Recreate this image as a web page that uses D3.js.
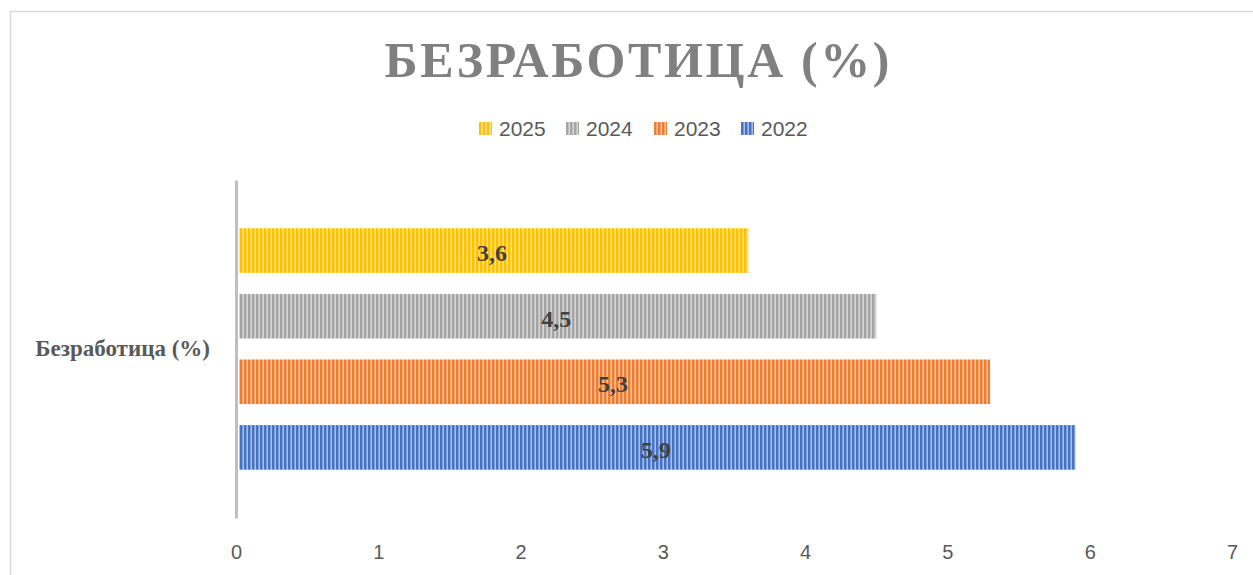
<!DOCTYPE html>
<html>
<head>
<meta charset="utf-8">
<script src="https://cdn.jsdelivr.net/npm/d3@7"></script>
<style>
  body { margin: 0; background: #fff; }
  svg { display: block; }
</style>
</head>
<body>
<svg class="chart" width="1253" height="575"></svg>
<script>
// data
const category = "Безработица (%)";
const years = ["2025", "2024", "2023", "2022"];
const values = [3.6, 4.5, 5.3, 5.9];
const colors = ["#FFC000", "#A5A5A5", "#ED7D31", "#4472C4"];
const xTicks = [0, 1, 2, 3, 4, 5, 6, 7];

const ru = d3.formatLocale({ decimal: ",", thousands: " ", grouping: [3], currency: ["", ""] });
const fmt = ru.format(".1f");

const svg = d3.select("svg.chart");

// outer chart frame (only left and top edges visible in the crop)
svg.append("rect")
    .attr("x", 10.5).attr("y", 11.5)
    .attr("width", 1300).attr("height", 700)
    .attr("fill", "none")
    .attr("stroke", "#d9d9d9")
    .attr("stroke-width", 1.5);

// striped fills
const defs = svg.append("defs");
years.forEach((yr, i) => {
    const p = defs.append("pattern")
        .attr("id", "stripe" + yr)
        .attr("patternUnits", "userSpaceOnUse")
        .attr("width", 4).attr("height", 10);
    p.append("rect").attr("width", 4).attr("height", 10).attr("fill", colors[i]);
    p.append("rect").attr("x", 2).attr("width", 1).attr("height", 10).attr("fill", "#fff").attr("opacity", 0.3);
    p.append("rect").attr("x", 3).attr("width", 1).attr("height", 10).attr("fill", "#fff").attr("opacity", 0.55);
});

// title
svg.append("text")
    .attr("x", 637).attr("y", 77)
    .attr("text-anchor", "middle")
    .attr("textLength", 505)
    .attr("lengthAdjust", "spacing")
    .style("font-family", "'Liberation Serif', 'Times New Roman', serif")
    .style("font-weight", "bold")
    .style("font-size", "50px")
    .style("fill", "#808080")
    .text("БЕЗРАБОТИЦА (%)");

// legend
const legendX = [479, 566, 654, 741];
const legend = svg.append("g").selectAll("g")
    .data(years)
    .enter().append("g")
    .attr("transform", (d, i) => `translate(${legendX[i]}, 122)`);
legend.append("rect")
    .attr("width", 13).attr("height", 13)
    .attr("fill", d => `url(#stripe${d})`);
legend.append("text")
    .attr("x", 20).attr("y", 7)
    .attr("dy", "0.35em")
    .style("font-family", "'Liberation Sans', Arial, sans-serif")
    .style("font-size", "21px")
    .style("fill", "#595959")
    .text(d => d);

// scales
const x = d3.scaleLinear().domain([0, 7]).range([236, 1232]);
const y0 = d3.scaleBand().domain([category]).range([180, 518]).paddingOuter(0.2);
const y1 = d3.scaleBand().domain(years)
    .range([y0(category), y0(category) + y0.bandwidth()])
    .paddingInner(0.32).paddingOuter(0);

// bars
const bars = svg.append("g").selectAll("g")
    .data(years.map((yr, i) => ({ year: yr, value: values[i] })))
    .enter().append("g");

bars.append("rect")
    .attr("x", x(0) + 3)
    .attr("y", d => y1(d.year))
    .attr("width", d => x(d.value) - x(0) - 3)
    .attr("height", y1.bandwidth())
    .attr("fill", d => `url(#stripe${d.year})`);

bars.append("text")
    .attr("x", d => x(d.value / 2))
    .attr("y", d => y1(d.year) + y1.bandwidth() / 2 + 2)
    .attr("dy", "0.35em")
    .attr("text-anchor", "middle")
    .style("font-family", "'Liberation Serif', 'Times New Roman', serif")
    .style("font-weight", "bold")
    .style("font-size", "24px")
    .style("fill", "#404040")
    .text(d => fmt(d.value));

// category axis
const yAxis = svg.append("g")
    .attr("transform", `translate(${x(0)}, 0)`)
    .call(d3.axisLeft(y0).tickSize(0).tickPadding(26).tickSizeOuter(0));
yAxis.select(".domain").attr("stroke", "#bfbfbf").attr("stroke-width", 3);
yAxis.selectAll("text")
    .attr("dy", "0.3em")
    .style("font-family", "'Liberation Serif', 'Times New Roman', serif")
    .style("font-weight", "bold")
    .style("font-size", "23px")
    .style("fill", "#595959");

// value axis
const xAxis = svg.append("g")
    .attr("transform", "translate(0, 518)")
    .call(d3.axisBottom(x).tickValues(xTicks).tickFormat(d3.format("d")).tickSize(0).tickPadding(27));
xAxis.select(".domain").remove();
xAxis.selectAll("text")
    .style("font-family", "'Liberation Sans', Arial, sans-serif")
    .style("font-size", "20px")
    .style("fill", "#595959");
</script>
</body>
</html>
